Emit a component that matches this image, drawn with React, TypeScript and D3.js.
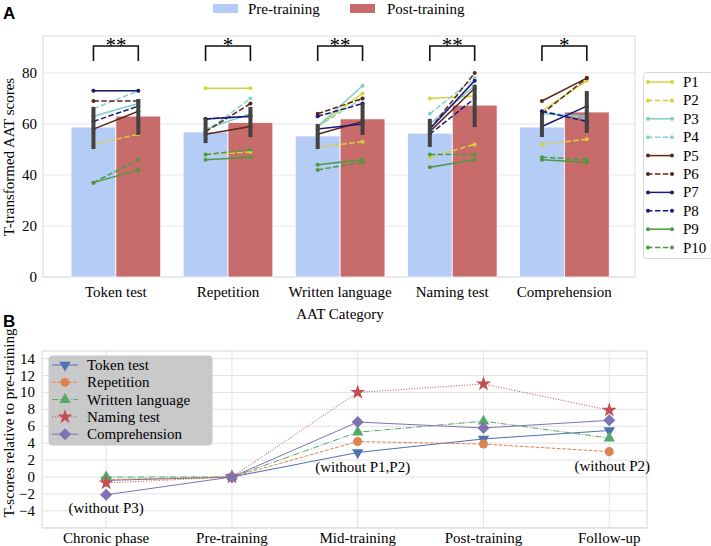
import * as React from 'react';
import * as d3 from 'd3';

// ---- Panel A data ----
const categories = ['Token test', 'Repetition', 'Written language', 'Naming test', 'Comprehension'];
const preMeans = [58.8, 56.9, 55.3, 56.4, 58.8];
const postMeans = [63.1, 60.6, 62.0, 67.4, 64.7];
const preCI: [number, number][] = [[50.2, 66.7], [52.5, 62.4], [50.2, 60.0], [51.0, 62.0], [54.9, 63.9]];
const postCI: [number, number][] = [[55.7, 69.8], [54.9, 66.7], [55.7, 68.2], [58.8, 75.3], [56.5, 72.9]];
const stars = ['**', '*', '**', '**', '*'];

const participants = ['P1', 'P2', 'P3', 'P4', 'P5', 'P6', 'P7', 'P8', 'P9', 'P10'];
const pColors = ['#d3d53f', '#d8cf3a', '#7ecccc', '#86d2d2', '#5b2718', '#5b2718', '#1b1a7c', '#1b1a7c', '#4c9a3f', '#4c9a3f'];
const pDashed = [false, true, false, true, false, true, false, true, false, true];
const pPre = [
  [73, 74, 59, 70, 65],
  [52, 48, 51, 47, 52],
  [63, 58, 59, 60, 64],
  [66, 57, 59, 64, 65],
  [58, 56, 56, 57, 69],
  [69, 57, 64, 58, 64],
  [73, 62, 58, 58, 59],
  [61, 62, 63, 56, 65],
  [37, 46, 44, 43, 46],
  [37, 48, 42, 48, 47],
];
const pPost = [
  [73, 74, 72, 71, 77],
  [56, 49, 53, 52, 54],
  [68, 64, 75, 75, 63],
  [73, 70, 70, 78, 62],
  [65, 59, 61, 74, 78],
  [69, 68, 70, 80, 78],
  [73, 63, 60, 77, 67],
  [67, 63, 68, 70, 61],
  [42, 47, 46, 46, 45],
  [46, 50, 45, 48, 46],
];
const yTicksA = [0, 20, 40, 60, 80];

// ---- Panel B data ----
const phases = ['Chronic phase', 'Pre-training', 'Mid-training', 'Post-training', 'Follow-up'];
const seriesNames = ['Token test', 'Repetition', 'Written language', 'Naming test', 'Comprehension'];
const tokenB = [-0.4, 0, 2.9, 4.5, 5.5];
const repetitionB = [-0.3, 0, 4.2, 3.9, 3.0];
const writtenB = [0.0, 0, 5.3, 6.6, 4.6];
const namingB = [-0.7, 0, 10.0, 11.0, 7.9];
const comprehensionB = [-2.1, 0, 6.5, 5.8, 6.7];
const seriesB = [tokenB, repetitionB, writtenB, namingB, comprehensionB];
const bColors = ['#4c72b0', '#dd8452', '#55a868', '#c44e52', '#8172b3'];
const bDash = ['none', '3.7,1.6', '6.4,1.6,1,1.6', '1,1.65', 'none'];
const yTicksB = [-4, -2, 0, 2, 4, 6, 8, 10, 12, 14];
const gridB = [-6, -4, -2, 0, 2, 4, 6, 8, 10, 12, 14];

const FONT = '"Liberation Serif", "DejaVu Serif", serif';

function marker(i: number, size = 1) {
  if (i === 0) return { d: d3.symbol(d3.symbolTriangle, 56 * size)()!, rot: 180 };
  if (i === 1) return { d: d3.symbol(d3.symbolCircle, 64 * size)()!, rot: 0 };
  if (i === 2) return { d: d3.symbol(d3.symbolTriangle, 56 * size)()!, rot: 0 };
  if (i === 3) return { d: d3.symbol(d3.symbolStar, 70 * size)()!, rot: 0 };
  return { d: d3.symbol(d3.symbolSquare, 72 * size)()!, rot: 45 };
}

const PanelA: React.FC = () => {
  const x = d3.scaleLinear().domain([-0.65, 4.63]).range([43, 635]);
  const y = d3.scaleLinear().domain([0, 94.5]).range([277, 36]);
  const bw = x(0.4) - x(0);
  const preX = (i: number) => x(i - 0.2);
  const postX = (i: number) => x(i + 0.2);
  const line = d3.line<[number, number]>().x(d => d[0]).y(d => d[1]);

  return (
    <g>
      <text x={3} y={19} fontFamily="Liberation Sans, Arial, sans-serif" fontWeight="bold" fontSize={17}>A</text>
      {/* top legend */}
      <rect x={213} y={4} width={25} height={9} fill="#b4ccf6" />
      <text x={248} y={14} fontFamily={FONT} fontSize={15}>Pre-training</text>
      <rect x={350} y={4} width={25} height={9} fill="#c86b6b" />
      <text x={387} y={14} fontFamily={FONT} fontSize={15}>Post-training</text>

      {yTicksA.map(t => (
        <g key={t}>
          <line x1={43} x2={635} y1={y(t)} y2={y(t)} stroke="#e6e6e6" strokeWidth={1} />
          <text x={37} y={y(t) + 5} textAnchor="end" fontFamily={FONT} fontSize={15}>{t}</text>
        </g>
      ))}
      <rect x={43} y={36} width={592} height={241} fill="none" stroke="#dcdcdc" strokeWidth={1} />

      {categories.map((c, i) => (
        <g key={c}>
          <rect x={x(i - 0.4)} y={y(preMeans[i])} width={bw} height={y(0) - y(preMeans[i])} fill="#b4ccf6" stroke="#fff" strokeWidth={0.8} />
          <rect x={x(i)} y={y(postMeans[i])} width={bw} height={y(0) - y(postMeans[i])} fill="#c86b6b" stroke="#fff" strokeWidth={0.8} />
          <text x={x(i)} y={297} textAnchor="middle" fontFamily={FONT} fontSize={15}>{c}</text>
        </g>
      ))}

      {participants.map((p, k) => (
        <g key={p}>
          {categories.map((c, i) => {
            const a: [number, number] = [preX(i), y(pPre[k][i])];
            const b: [number, number] = [postX(i), y(pPost[k][i])];
            return (
              <g key={c}>
                <path d={line([a, b]) || undefined} stroke={pColors[k]} strokeWidth={1.5} fill="none" strokeDasharray={pDashed[k] ? '5.5,2.4' : undefined} />
                <circle cx={a[0]} cy={a[1]} r={2} fill={pColors[k]} />
                <circle cx={b[0]} cy={b[1]} r={2} fill={pColors[k]} />
              </g>
            );
          })}
        </g>
      ))}

      {categories.map((c, i) => (
        <g key={c + 'err'}>
          <line x1={preX(i)} x2={preX(i)} y1={y(preCI[i][0])} y2={y(preCI[i][1])} stroke="#424242" strokeWidth={4} />
          <line x1={postX(i)} x2={postX(i)} y1={y(postCI[i][0])} y2={y(postCI[i][1])} stroke="#424242" strokeWidth={4} />
          <path d={`M${preX(i)},${y(84.7)}V${y(90.6)}H${postX(i)}V${y(84.7)}`} fill="none" stroke="#111" strokeWidth={1.6} />
          <text x={x(i)} y={51.5} textAnchor="middle" fontFamily={FONT} fontSize={21}>{stars[i]}</text>
        </g>
      ))}

      <text transform="translate(14,157) rotate(-90)" textAnchor="middle" fontFamily={FONT} fontSize={15}>T-transformed AAT scores</text>
      <text x={340} y={319} textAnchor="middle" fontFamily={FONT} fontSize={15}>AAT Category</text>

      {/* participant legend */}
      <rect x={643.5} y={72.5} width={70} height={186} rx={3} fill="#fff" stroke="#d8d8d8" />
      {participants.map((p, k) => {
        const yy = 82 + k * 18.4;
        return (
          <g key={p + 'leg'}>
            <line x1={647} x2={673} y1={yy} y2={yy} stroke={pColors[k]} strokeWidth={1.5} strokeDasharray={pDashed[k] ? '5.5,2.4' : undefined} />
            <circle cx={648} cy={yy} r={2} fill={pColors[k]} />
            <circle cx={672} cy={yy} r={2} fill={pColors[k]} />
            <text x={683} y={yy + 5} fontFamily={FONT} fontSize={15}>{p}</text>
          </g>
        );
      })}
    </g>
  );
};

const PanelB: React.FC = () => {
  const x = d3.scaleLinear().domain([-0.51, 4.3]).range([42, 647]);
  const y = d3.scaleLinear().domain([-6.03, 14.9]).range([528, 351]);
  const line = d3.line<number>().x((d, i) => x(i)).y(d => y(d));

  return (
    <g>
      <text x={3} y={327} fontFamily="Liberation Sans, Arial, sans-serif" fontWeight="bold" fontSize={17}>B</text>
      {gridB.map(t => (
        <line key={t} x1={42} x2={647} y1={y(t)} y2={y(t)} stroke="#e3e3e3" strokeWidth={1} />
      ))}
      {phases.map((p, i) => (
        <g key={p}>
          <line x1={x(i)} x2={x(i)} y1={351} y2={528} stroke="#e3e3e3" strokeWidth={1} />
          <text x={x(i)} y={543} textAnchor="middle" fontFamily={FONT} fontSize={15}>{p}</text>
        </g>
      ))}
      {yTicksB.map(t => (
        <text key={t} x={35} y={y(t) + 5} textAnchor="end" fontFamily={FONT} fontSize={15}>{t < 0 ? '\u2212' + Math.abs(t) : t}</text>
      ))}
      <rect x={42} y={351} width={605} height={177} fill="none" stroke="#d8d8d8" strokeWidth={1} />

      {seriesB.map((s, k) => (
        <path key={k} d={line(s) || undefined} fill="none" stroke={bColors[k]} strokeWidth={1} strokeDasharray={bDash[k] === 'none' ? undefined : bDash[k]} />
      ))}
      {seriesB.map((s, k) => {
        const m = marker(k);
        return (
          <g key={'m' + k}>
            {s.map((v, i) => (
              <path key={i} d={m.d} transform={`translate(${x(i)},${y(v)}) rotate(${m.rot})`} fill={bColors[k]} />
            ))}
          </g>
        );
      })}

      <text x={x(0)} y={y(-3.7) + 5} textAnchor="middle" fontFamily={FONT} fontSize={15}>(without P3)</text>
      <text x={x(2) + 5} y={y(1.2) + 5} textAnchor="middle" fontFamily={FONT} fontSize={15}>(without P1,P2)</text>
      <text x={x(4) + 3} y={y(1.3) + 5} textAnchor="middle" fontFamily={FONT} fontSize={15}>(without P2)</text>

      {/* legend */}
      <rect x={49} y={356} width={163} height={89} rx={3} fill="#c9c9c9" stroke="#c9c9c9" />
      {seriesNames.map((n, k) => {
        const yy = 365 + k * 17.3;
        const m = marker(k);
        return (
          <g key={n}>
            <line x1={52} x2={78} y1={yy} y2={yy} stroke={bColors[k]} strokeWidth={1} strokeDasharray={bDash[k] === 'none' ? undefined : bDash[k]} />
            <path d={m.d} transform={`translate(65,${yy}) rotate(${m.rot})`} fill={bColors[k]} />
            <text x={87} y={yy + 5} fontFamily={FONT} fontSize={15}>{n}</text>
          </g>
        );
      })}

      <text transform="translate(14,423) rotate(-90)" textAnchor="middle" fontFamily={FONT} fontSize={15}>T-scores relative to pre-training</text>
    </g>
  );
};

export default function App() {
  return (
    <svg width={711} height={546} style={{ position: 'absolute', left: 0, top: 0, background: '#fff' }}>
      <rect width={711} height={546} fill="#fff" />
      <PanelA />
      <PanelB />
    </svg>
  );
}
